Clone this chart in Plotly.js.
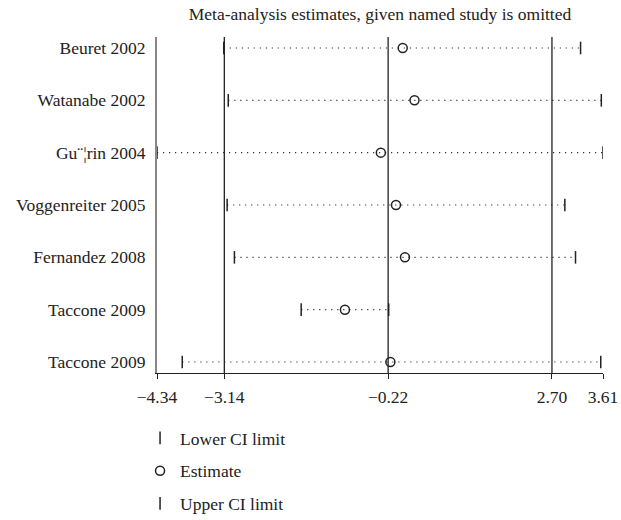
<!DOCTYPE html>
<html>
<head>
<meta charset="utf-8">
<script src="https://cdn.plot.ly/plotly-3.0.1.min.js"></script>
<style>html,body{margin:0;padding:0;background:#fff;}#chart{width:621px;height:520px;}</style>
</head>
<body>
<div id="chart"></div>
<script>
const studies = ["Beuret 2002", "Watanabe 2002", "Gu¨¦rin 2004", "Voggenreiter 2005", "Fernandez 2008", "Taccone 2009", "Taccone 2009"];
const lowerCI = [-3.15, -3.07, -4.34, -3.09, -2.96, -1.77, -3.89];
const estimate = [0.04, 0.25, -0.35, -0.08, 0.08, -0.99, -0.18];
const upperCI = [3.21, 3.58, 3.61, 2.93, 3.12, -0.21, 3.57];
const refLines = [-3.14, -0.22, 2.70];
const xTickVals = [-4.34, -3.14, -0.22, 2.70, 3.61];
const xTickText = ["\u22124.34", "\u22123.14", "\u22120.22", "2.70", "3.61"];

const font = "Liberation Serif, DejaVu Serif, serif";
const fs = 17.5;
const rows = studies.map((s, i) => i);
const traces = [];
rows.forEach(i => {
  traces.push({
    x: [lowerCI[i], upperCI[i]], y: [i, i], mode: "lines", showlegend: false,
    line: {color: "#333", width: 1.2, dash: "1.2px,4.8px"}, hoverinfo: "skip"
  });
});
traces.push({x: lowerCI, y: rows, mode: "markers", name: "Lower CI limit", legendgroup: "a",
  marker: {symbol: "line-ns", size: 9, line: {color: "#222", width: 1.5}}});
traces.push({x: estimate, y: rows, mode: "markers", name: "Estimate", legendgroup: "b",
  marker: {symbol: "circle-open", size: 9, color: "#222", line: {color: "#222", width: 1.5}}});
traces.push({x: upperCI, y: rows, mode: "markers", name: "Upper CI limit", legendgroup: "c",
  marker: {symbol: "line-ns", size: 9, line: {color: "#222", width: 1.5}}});

const shapes = refLines.map(v => ({type: "line", xref: "x", yref: "paper", x0: v, x1: v, y0: 0, y1: 1,
  line: {color: "#222", width: 1.3}}));

const layout = {
  width: 621, height: 520,
  margin: {l: 157, r: 18, t: 37, b: 147, autoexpand: false},
  paper_bgcolor: "#fff", plot_bgcolor: "#fff",
  font: {family: font, size: fs, color: "#222"},
  title: {text: "Meta-analysis estimates, given named study is omitted", x: 0.5, xref: "paper", xanchor: "center",
    y: 1, yref: "container", yanchor: "top", pad: {t: 8}, font: {family: font, size: fs, color: "#222"}},
  xaxis: {range: [-4.34, 3.61], tickvals: xTickVals, ticktext: xTickText, showgrid: false, zeroline: false,
    showline: true, linecolor: "#222", linewidth: 1.3, ticks: "outside", ticklen: 5, tickcolor: "#222",
    ticklabelstandoff: 3, fixedrange: true, tickfont: {family: font, size: fs, color: "#222"}},
  yaxis: {range: [6.21, -0.21], tickvals: rows, ticktext: studies, showgrid: false, zeroline: false,
    showline: true, linecolor: "#888", linewidth: 2, ticks: "", ticklabelstandoff: 6,
    fixedrange: true, tickfont: {family: font, size: fs, color: "#222"}},
  shapes: shapes,
  showlegend: true,
  legend: {x: -0.038, xanchor: "left", y: -0.14, yanchor: "top", traceorder: "grouped", tracegroupgap: 7,
    font: {family: font, size: fs, color: "#222"}, bgcolor: "rgba(0,0,0,0)"}
};
Plotly.newPlot("chart", traces, layout, {displayModeBar: false, staticPlot: true});
</script>
</body>
</html>
